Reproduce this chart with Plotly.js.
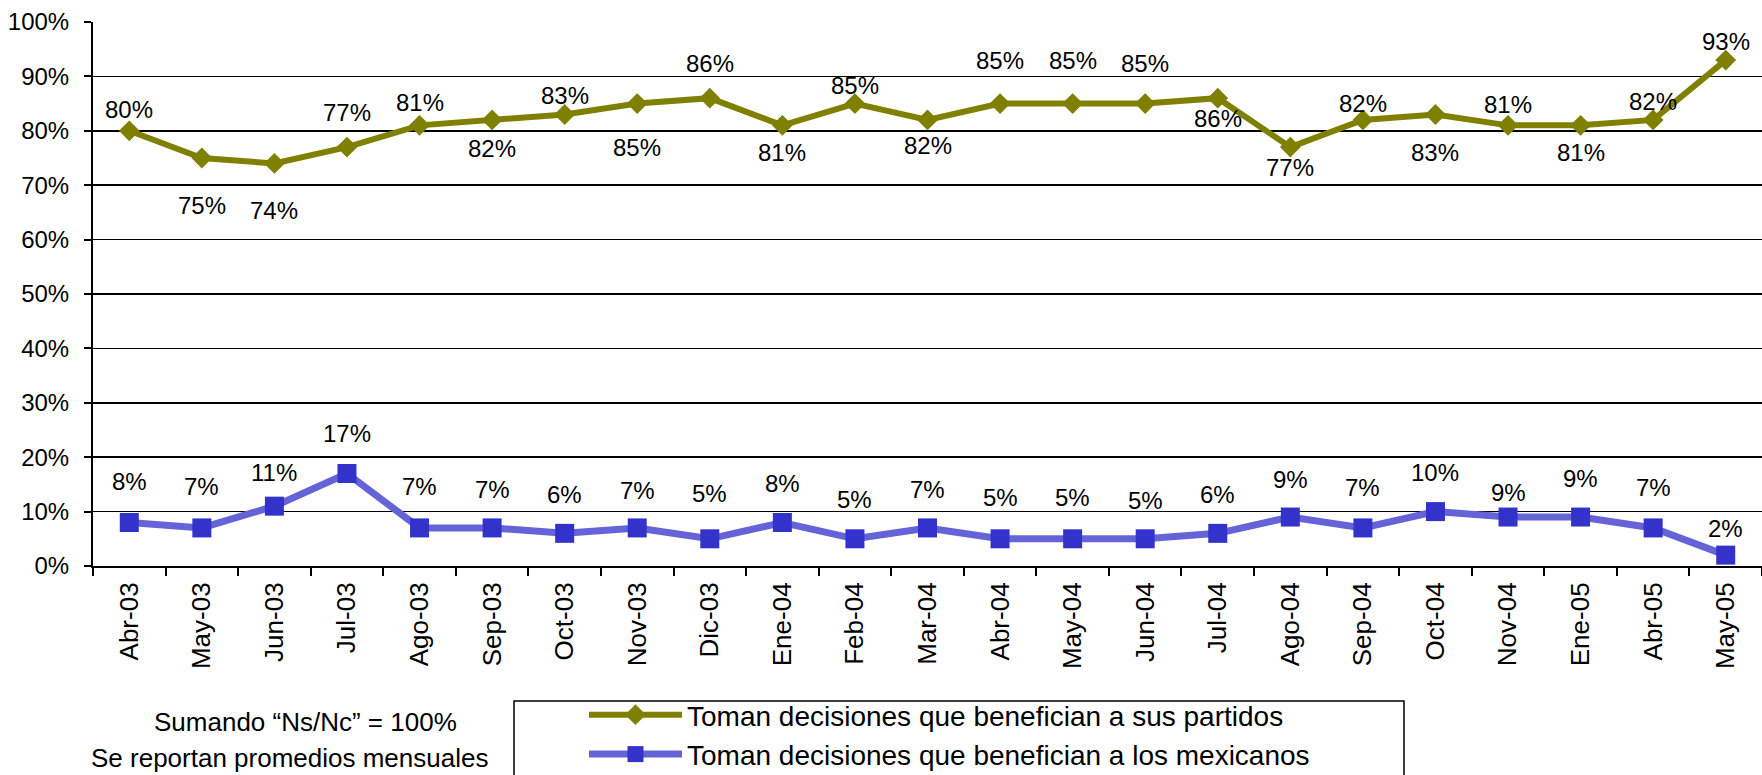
<!DOCTYPE html>
<html>
<head>
<meta charset="utf-8">
<script src="https://cdn.plot.ly/plotly-3.0.1.min.js"></script>
<style>
  html, body { margin: 0; padding: 0; background: #fff; }
  #chart { width: 1762px; height: 775px; }
</style>
</head>
<body>
<div id="chart"></div>
<script>
// ---- data ----
const months = ["Abr-03","May-03","Jun-03","Jul-03","Ago-03","Sep-03","Oct-03","Nov-03","Dic-03",
                "Ene-04","Feb-04","Mar-04","Abr-04","May-04","Jun-04","Jul-04","Ago-04","Sep-04",
                "Oct-04","Nov-04","Ene-05","Abr-05","May-05"];
const partidos  = [80,75,74,77,81,82,83,85,86,81,85,82,85,85,85,86,77,82,83,81,81,82,93];
const mexicanos = [8,7,11,17,7,7,6,7,5,8,5,7,5,5,5,6,9,7,10,9,9,7,2];
const seriesNames = ["Toman decisiones que benefician a sus partidos",
                     "Toman decisiones que benefician a los mexicanos"];
const yTickValues = [0,10,20,30,40,50,60,70,80,90,100];
const noteLines = ["Sumando \u201cNs/Nc\u201d = 100%", "Se reportan promedios mensuales"];

// ---- label placement (pixels above (+) / below (-) each point) ----
const partidosLabelShift  = [21,-47,-47,35,23,-29,19,-44,35,-27,18,-26,43,43,40,-20,-20,16,-38,21,-27,18,19];
const mexicanosLabelShift = [41,41,34,40,41,38,39,37,45,39,39,38,41,41,38,39,38,40,39,25,39,40,27];

const FONT = "'Liberation Sans', Arial, sans-serif";
const OLIVE = "#808000";
const BLUE_LINE = "#6464D8";
const BLUE_MARK = "#3333CC";

const traces = [
  {
    x: months, y: partidos, type: "scatter", mode: "lines+markers",
    name: seriesNames[0], cliponaxis: false,
    line: { color: OLIVE, width: 6 },
    marker: { symbol: "diamond", size: 16, color: OLIVE }
  },
  {
    x: months, y: mexicanos, type: "scatter", mode: "lines+markers",
    name: seriesNames[1], cliponaxis: false,
    line: { color: BLUE_LINE, width: 7 },
    marker: { symbol: "square", size: 19, color: BLUE_MARK }
  }
];

const annotations = [];
months.forEach((m, i) => {
  annotations.push({ x: m, y: partidos[i], xref: "x", yref: "y", text: partidos[i] + "%",
    showarrow: false, yshift: partidosLabelShift[i], yanchor: "middle",
    font: { family: FONT, size: 24, color: "#000" } });
  annotations.push({ x: m, y: mexicanos[i], xref: "x", yref: "y", text: mexicanos[i] + "%",
    showarrow: false, yshift: mexicanosLabelShift[i], yanchor: "middle",
    font: { family: FONT, size: 24, color: "#000" } });
});
annotations.push({ xref: "paper", yref: "paper", x: 0.1276, y: -0.286, text: noteLines[0],
  showarrow: false, xanchor: "center", yanchor: "middle", font: { family: FONT, size: 26, color: "#000" } });
annotations.push({ xref: "paper", yref: "paper", x: 0.118, y: -0.353, text: noteLines[1],
  showarrow: false, xanchor: "center", yanchor: "middle", font: { family: FONT, size: 26, color: "#000" } });

const layout = {
  width: 1762, height: 775,
  margin: { l: 93, r: 0, t: 22, b: 209, pad: 0, autoexpand: false },
  paper_bgcolor: "#fff", plot_bgcolor: "#fff",
  font: { family: FONT, color: "#000" },
  showlegend: true,
  legend: {
    x: (584 - 93) / 1669, y: (566 - 690) / 544, xanchor: "left", yanchor: "top",
    orientation: "v", bgcolor: "rgba(0,0,0,0)", borderwidth: 0,
    itemwidth: 93,
    font: { family: FONT, size: 28, color: "#000" }
  },
  xaxis: {
    type: "category", range: [-0.5, 22.5], automargin: false,
    showline: true, linecolor: "#000", linewidth: 2,
    ticks: "outside", tickson: "boundaries", ticklen: 8, tickwidth: 2, tickcolor: "#000",
    tickangle: -90, showgrid: false, zeroline: false, ticklabelstandoff: 4,
    tickfont: { family: FONT, size: 26, color: "#000" }
  },
  yaxis: {
    range: [0, 100], automargin: false,
    tickmode: "array", tickvals: yTickValues, ticktext: yTickValues.map(v => v + "%"),
    showline: true, linecolor: "#000", linewidth: 2,
    ticks: "outside", ticklen: 7, tickwidth: 2, tickcolor: "#000",
    showgrid: true, gridcolor: "#000", gridwidth: 1.5, zeroline: false,
    ticklabelstandoff: 10,
    tickfont: { family: FONT, size: 24, color: "#000" }
  },
  shapes: [{
    type: "rect", xref: "paper", yref: "paper",
    x0: (514 - 93) / 1669, x1: (1404 - 93) / 1669,
    y0: (566 - 701) / 544, y1: -0.6,
    line: { color: "#000", width: 1.5 }, fillcolor: "rgba(0,0,0,0)"
  }],
  annotations: annotations
};

Plotly.newPlot("chart", traces, layout, { displayModeBar: false, staticPlot: true });
</script>
</body>
</html>
